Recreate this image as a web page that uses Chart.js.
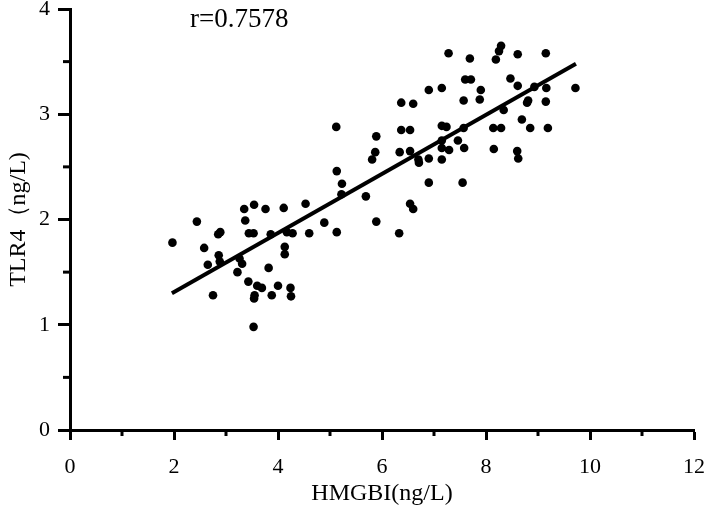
<!DOCTYPE html>
<html>
<head>
<meta charset="utf-8">
<script src="https://cdn.jsdelivr.net/npm/chart.js@4/dist/chart.umd.min.js"></script>
<style>
    html, body { margin: 0; padding: 0; background: #fff; }
    #wrap { width: 709px; height: 512px; }
</style>
</head>
<body>
<div id="wrap"><canvas id="chart" width="709" height="512"></canvas></div>
<script>
// HMGBI values (x) and TLR4 values (y)
const hmgbi = [
    1.97, 2.44, 2.58, 2.65, 2.75, 2.86, 2.85, 2.89, 2.88, 3.26,
    3.31, 3.22, 3.35, 3.37, 3.44, 3.53, 3.54, 3.43, 3.60, 3.69,
    3.55, 3.54, 3.53, 3.76, 3.82, 3.88, 3.86, 4.00, 4.11, 4.53,
    4.17, 4.28, 4.60, 4.89, 5.13, 5.69, 5.89, 6.33, 4.13, 4.13,
    4.24, 4.25, 5.12, 5.89, 5.87, 5.81, 5.13, 5.23, 5.22, 6.37,
    6.60, 6.37, 6.54, 6.34, 6.54, 6.70, 6.71, 6.90, 6.90, 6.54,
    6.60, 7.15, 7.24, 7.15, 7.15, 7.29, 7.15, 7.46, 7.58, 7.55,
    7.28, 7.69, 8.29, 8.25, 8.19, 8.61, 9.15, 7.60, 7.71, 8.47,
    8.61, 8.93, 9.16, 6.90, 7.15, 7.90, 7.88, 7.57, 8.81, 8.79,
    9.15, 8.34, 8.69, 8.85, 9.19, 8.14, 8.29, 7.57, 8.15, 8.60,
    8.62, 9.72
];
const tlr4 = [
    1.78, 1.98, 1.73, 1.57, 1.28, 1.66, 1.86, 1.88, 1.60, 1.63,
    1.58, 1.50, 2.10, 1.99, 1.87, 1.87, 2.14, 1.41, 1.37, 1.35,
    1.28, 1.25, 0.98, 2.10, 1.54, 1.28, 1.86, 1.37, 2.11, 2.15,
    1.88, 1.87, 1.87, 1.97, 1.88, 2.22, 1.98, 1.87, 1.74, 1.67,
    1.35, 1.27, 2.88, 2.79, 2.64, 2.57, 2.46, 2.34, 2.24, 3.11,
    3.10, 2.85, 2.85, 2.64, 2.65, 2.57, 2.54, 2.58, 2.35, 2.15,
    2.10, 2.89, 2.88, 2.75, 2.68, 2.66, 2.57, 2.75, 2.68, 2.35,
    3.58, 3.53, 3.65, 3.60, 3.52, 3.57, 3.58, 3.33, 3.33, 3.34,
    3.27, 3.26, 3.25, 3.23, 3.25, 3.23, 3.14, 3.13, 3.13, 3.11,
    3.12, 3.04, 2.95, 2.87, 2.87, 2.87, 2.87, 2.87, 2.67, 2.65,
    2.58, 3.25
];

// fitted line end points
const fitX = [1.96, 9.73];
const fitY = [1.30, 3.48];

const rLabel = 'r=0.7578';
const xTitle = 'HMGBI(ng/L)';
const yTitle = 'TLR4（ng/L)';

const serif = '"Liberation Serif", "Times New Roman", serif';

// short minor ticks half way between the labelled ones
const minorTicks = {
    id: 'minorTicks',
    afterDraw(chart) {
        const ctx = chart.ctx;
        const x = chart.scales.x;
        const y = chart.scales.y;
        ctx.save();
        ctx.strokeStyle = '#000';
        ctx.lineWidth = 3;
        for (let v = 1; v < 12; v += 2) {
            const px = x.getPixelForValue(v);
            ctx.beginPath();
            ctx.moveTo(px, x.top);
            ctx.lineTo(px, x.top + 6);
            ctx.stroke();
        }
        for (let v = 0.5; v < 4; v += 1) {
            const py = y.getPixelForValue(v);
            ctx.beginPath();
            ctx.moveTo(y.right, py);
            ctx.lineTo(y.right - 7, py);
            ctx.stroke();
        }
        // r value
        ctx.fillStyle = '#000';
        ctx.font = '27px ' + serif;
        ctx.textBaseline = 'middle';
        ctx.fillText(rLabel, 190, 20);
        ctx.restore();
    }
};

new Chart(document.getElementById('chart'), {
    type: 'scatter',
    data: {
        datasets: [{
            label: 'points',
            data: hmgbi.map((v, i) => ({ x: v, y: tlr4[i] })),
            backgroundColor: '#000',
            borderColor: '#000',
            pointRadius: 4.3,
            borderWidth: 0
        }, {
            label: 'fit',
            type: 'line',
            data: fitX.map((v, i) => ({ x: v, y: fitY[i] })),
            borderColor: '#000',
            borderWidth: 4,
            pointRadius: 0,
            fill: false
        }]
    },
    options: {
        responsive: false,
        animation: false,
        layout: { padding: { top: 9, right: 15, left: 0, bottom: 0 } },
        plugins: {
            legend: { display: false },
            tooltip: { enabled: false }
        },
        scales: {
            x: {
                type: 'linear',
                min: 0,
                max: 12,
                afterFit(scale) {
                    scale.height = 82;
                    scale.paddingLeft = 0;
                    scale.paddingRight = 0;
                },
                border: { display: true, color: '#000', width: 3 },
                grid: {
                    drawOnChartArea: false,
                    drawTicks: true,
                    tickLength: 10,
                    tickWidth: 3,
                    tickColor: '#000'
                },
                ticks: {
                    stepSize: 2,
                    color: '#000',
                    padding: 14,
                    maxRotation: 0,
                    font: { family: serif, size: 22 }
                },
                title: {
                    display: true,
                    text: xTitle,
                    color: '#000',
                    padding: { top: 0, bottom: 4 },
                    font: { family: serif, size: 24 }
                }
            },
            y: {
                type: 'linear',
                min: 0,
                max: 4,
                afterFit(scale) {
                    scale.width = 70;
                    scale.paddingTop = 0;
                    scale.paddingBottom = 0;
                },
                border: { display: true, color: '#000', width: 3 },
                grid: {
                    drawOnChartArea: false,
                    drawTicks: true,
                    tickLength: 12,
                    tickWidth: 3,
                    tickColor: '#000'
                },
                ticks: {
                    stepSize: 1,
                    color: '#000',
                    padding: 8,
                    font: { family: serif, size: 22 }
                },
                title: {
                    display: true,
                    text: yTitle,
                    color: '#000',
                    padding: { top: 4, bottom: 0 },
                    font: { family: serif, size: 24 }
                }
            }
        }
    },
    plugins: [minorTicks]
});
</script>
</body>
</html>
